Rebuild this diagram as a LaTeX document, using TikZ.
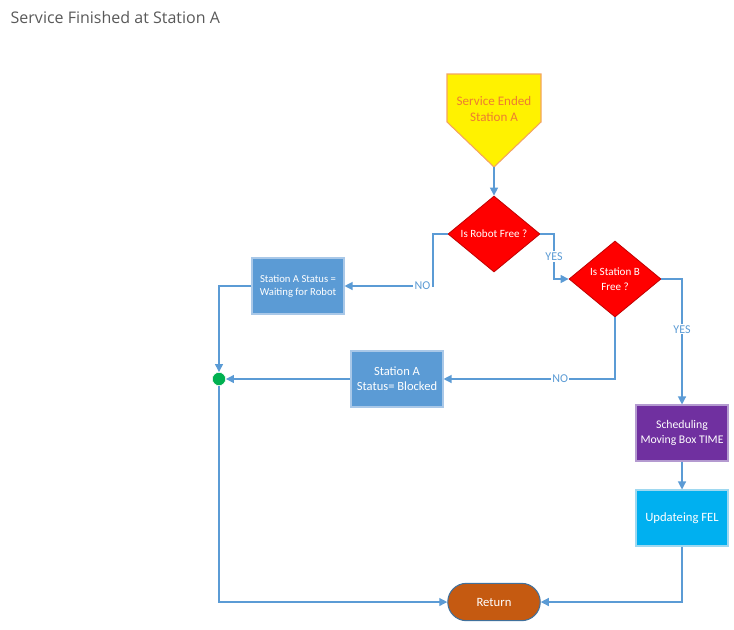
\documentclass[tikz,border=0pt]{standalone}
\usepackage{fontspec}
\setmainfont{Carlito}
\newfontfamily\titlefont{Open Sans}
\usetikzlibrary{shapes.geometric,shapes.misc,arrows.meta}
\definecolor{lineblue}{HTML}{5B9BD5}
\definecolor{boxblue}{HTML}{5B9BD5}
\definecolor{boxedge}{HTML}{A9C8E8}
\definecolor{purp}{HTML}{7030A0}
\definecolor{purpedge}{HTML}{B49AD0}
\definecolor{cyanbox}{HTML}{00B0F0}
\definecolor{cyanedge}{HTML}{9ED8F0}
\definecolor{retfill}{HTML}{C55A11}
\definecolor{retedge}{HTML}{41719C}
\definecolor{pentedge}{HTML}{F4A460}
\definecolor{penttext}{HTML}{ED7D31}
\definecolor{titlegray}{HTML}{595959}
\definecolor{dotgreen}{HTML}{00B050}
\definecolor{decedge}{HTML}{C00000}
\begin{document}
\begin{tikzpicture}[x=0.75pt,y=-0.75pt,
  conn/.style={draw=lineblue, line width=0.9pt},
  arr/.style={conn,-{Triangle[length=6pt,width=6pt]}},
  proc/.style={rectangle, minimum width=69pt, minimum height=42pt, inner sep=1pt, align=center, text=white, line width=0.8pt, font=\fontsize{8}{10}\selectfont},
  dec/.style={diamond, fill=red, draw=decedge, line width=0.6pt, minimum width=69pt, minimum height=57pt, inner sep=0pt, align=center, text=white, font=\fontsize{8.3}{11}\selectfont},
  lbl/.style={fill=white, text=lineblue, inner sep=1pt, font=\fontsize{9}{10}\selectfont}
]
\useasboundingbox (0,0) rectangle (734,629);
\node[anchor=west, text=titlegray, font=\titlefont\fontsize{12}{14}\selectfont] (title) at (6,17) {Service Finished at Station A};

\draw[fill=yellow, draw=pentedge, line width=0.8pt] (447,74) -- (541,74) -- (541,122) -- (494,167) -- (447,122) -- cycle;
\node[text=penttext, align=center, font=\fontsize{9.8}{12.5}\selectfont] (start) at (494,109) {Service Ended\\Station A};
\coordinate (startpt) at (494,167);

\node[dec] (d1) at (494,234) {Is Robot Free ?};
\node[dec] (d2) at (615,279) {Is Station B\\Free ?};
\node[proc, fill=boxblue, draw=boxedge] (b1) at (298,286) {Station A Status =\\Waiting for Robot};
\node[proc, fill=boxblue, draw=boxedge, font=\fontsize{9.4}{11.5}\selectfont] (b2) at (397,379) {Station A\\Status= Blocked};
\node[proc, fill=purp, draw=purpedge, font=\fontsize{8.8}{11.5}\selectfont] (b3) at (682,433) {Scheduling\\Moving Box TIME};
\node[proc, fill=cyanbox, draw=cyanedge, font=\fontsize{9.5}{11.5}\selectfont] (b4) at (682,518) {Updateing FEL};
\node[rounded rectangle, fill=retfill, draw=retedge, line width=0.8pt, minimum width=76pt, minimum height=28pt, text=white, font=\fontsize{9.5}{11}\selectfont] (ret) at (494,602) {Return};
\node[circle, fill=dotgreen, draw=white, line width=0.4pt, minimum size=10pt, inner sep=0pt] (dot) at (219,379) {};

\draw[arr] (startpt) -- (d1.north);
\draw[arr] (d1.east) -- (554,234) -- node[lbl]{YES} (554,279) -- (d2.west);
\draw[arr] (d1.west) -- (433,234) -- (433,286) -- node[lbl, pos=0.12]{NO} (b1.east);
\draw[arr] (d2.south) -- (615,379) -- node[lbl, pos=0.32]{NO} (b2.east);
\draw[arr] (d2.east) -- (682,279) -- node[lbl, pos=0.4]{YES} (b3.north);
\draw[arr] (b3.south) -- (b4.north);
\draw[arr] (b4.south) -- (682,602) -- (ret.east);
\draw[arr] (b1.west) -- (219,286) -- (dot.north);
\draw[arr] (b2.west) -- (dot.east);
\draw[arr] (dot.south) -- (219,602) -- (ret.west);
\end{tikzpicture}
\end{document}
